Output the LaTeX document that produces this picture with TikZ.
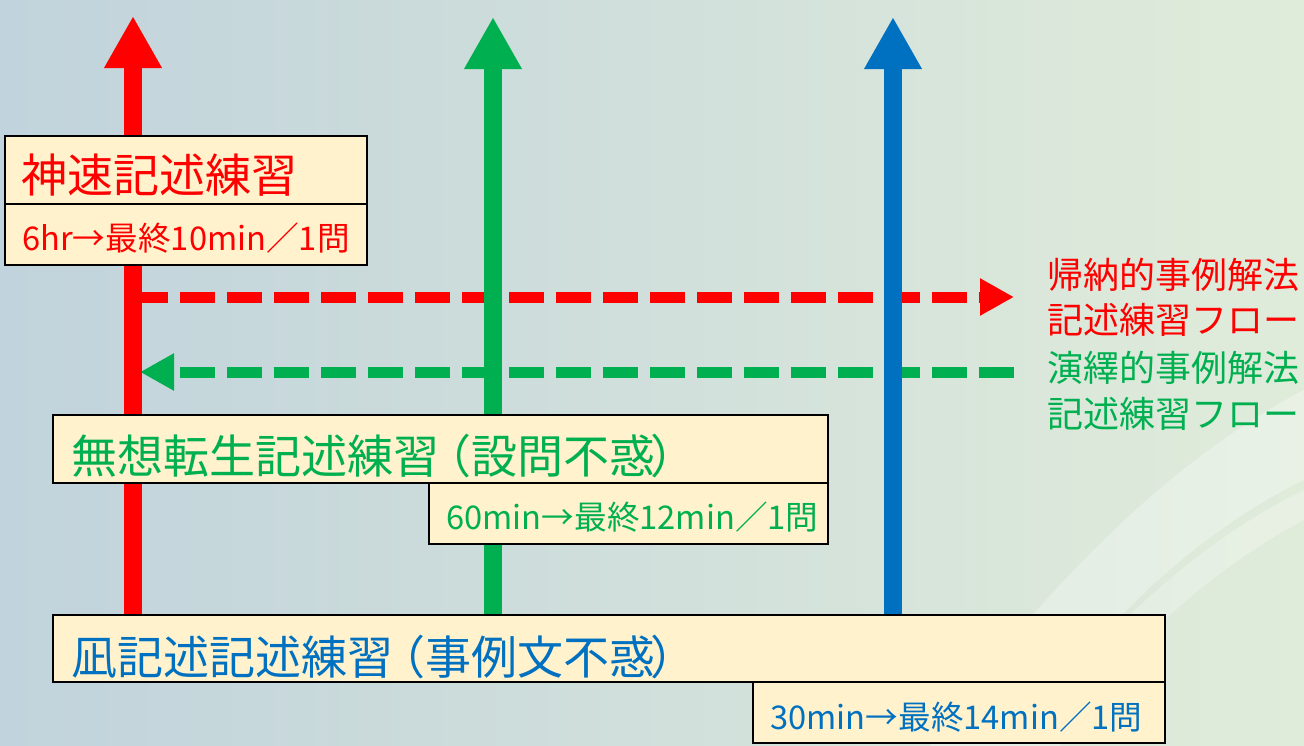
\documentclass[tikz,border=0pt]{standalone}
\usepackage{fontspec}
\newfontfamily\jp{Noto Sans CJK JP}
\usetikzlibrary{arrows.meta}
\definecolor{bgL}{HTML}{C1D3DC}
\definecolor{bgR}{HTML}{E0ECDA}
\definecolor{boxfill}{HTML}{FFF2CC}
\definecolor{myred}{HTML}{FF0000}
\definecolor{mygreen}{HTML}{00B050}
\definecolor{myblue}{HTML}{0070C0}
\begin{document}
\begin{tikzpicture}[x=0.75pt,y=-0.75pt,
 vshaft/.style={line width=13.5pt,-{Triangle[length=39pt,width=40.5pt]}},
 hdash/.style={line width=8.25pt,dash pattern=on 26.25pt off 9pt,-{Triangle[length=25.5pt,width=26.25pt]}},
 box/.style={draw=black,line width=1.9pt,fill=boxfill,anchor=north west,inner sep=0pt,outer sep=0pt},
 title/.style={anchor=base west,inner sep=0pt,font=\jp\fontsize{34.5pt}{40pt}\selectfont},
 sub/.style={anchor=base west,inner sep=0pt,font=\jp\fontsize{24.5pt}{29pt}\selectfont},
 flow/.style={anchor=base west,inner sep=0pt,font=\jp\fontsize{27pt}{33pt}\selectfont},
]
\useasboundingbox (0,0) rectangle (1304,746);
\shade[left color=bgL,right color=bgR] (0,0) rectangle (1304,746);
\fill[white,opacity=0.3] (930,746) .. controls (1040,590) and (1170,460) .. (1304,390) -- (1304,480) .. controls (1200,530) and (1090,630) .. (1020,746) -- cycle;
\fill[white,opacity=0.25] (1020,746) .. controls (1090,640) and (1200,540) .. (1304,490) -- (1304,520) .. controls (1210,570) and (1120,650) .. (1060,746) -- cycle;

% dashed flows
\coordinate (rS) at (133,297);
\coordinate (rE) at (1014,297);
\coordinate (gS) at (1014,372);
\coordinate (gE) at (140,372);
\draw[hdash,myred] (rS) -- (rE);
\draw[hdash,mygreen] (gS) -- (gE);

% vertical arrows
\coordinate (rB) at (133,615);
\coordinate (rT) at (133,16);
\coordinate (gB) at (493,615);
\coordinate (gT) at (493,17);
\coordinate (bB) at (893,615);
\coordinate (bT) at (893,17);
\draw[vshaft,myred] (rB) -- (rT);
\draw[vshaft,mygreen] (gB) -- (gT);
\draw[vshaft,myblue] (bB) -- (bT);

% boxes
\node[box,minimum width=271.5pt,minimum height=51pt] (b1) at (5,136) {};
\node[box,minimum width=271.5pt,minimum height=45.75pt] (b1s) at (5,204) {};
\node[box,minimum width=581.25pt,minimum height=51pt] (b2) at (53,415) {};
\node[box,minimum width=299.25pt,minimum height=45.75pt] (b2s) at (429,483) {};
\node[box,minimum width=834pt,minimum height=50.25pt] (b3) at (53,615) {};
\node[box,minimum width=309pt,minimum height=45.75pt] (b3s) at (753,682) {};

% texts
\node[title,text=myred] (t1) at (21,192.5) {神速記述練習};
\node[sub,text=myred] (s1) at (22,250) {6hr→最終10min／1問};
\node[title,text=mygreen] (t2) at (71,473.5) {無想転生記述練習\kern-0.3em（設問不惑\kern-0.1em）};
\node[sub,text=mygreen] (s2) at (446,529) {60min→最終12min／1問};
\node[title,text=myblue] (t3) at (71,674.5) {凪記述記述練習\kern-0.3em（事例文不惑\kern-0.1em）};
\node[sub,text=myblue] (s3) at (770,729) {30min→最終14min／1問};

\node[flow,text=myred] (f1) at (1047,288) {帰納的事例解法};
\node[flow,text=myred] (f2) at (1047,333) {記述練習フロー};
\node[flow,text=mygreen] (f3) at (1047,381) {演繹的事例解法};
\node[flow,text=mygreen] (f4) at (1047,427) {記述練習フロー};
\end{tikzpicture}
\end{document}
